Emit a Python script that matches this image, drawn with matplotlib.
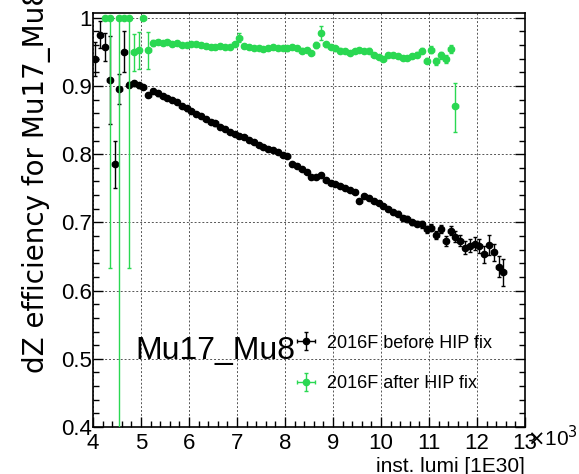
import numpy as np
import matplotlib.pyplot as plt
from matplotlib.ticker import MultipleLocator, FuncFormatter

plt.rcParams['font.family'] = ['Liberation Sans', 'DejaVu Sans']

# before HIP fix (black)
x_before = [4.05, 4.15, 4.25, 4.35, 4.45, 4.55, 4.65, 4.75, 4.85, 4.95,
            5.05, 5.15, 5.25, 5.35, 5.45, 5.55, 5.65, 5.75, 5.85, 5.95,
            6.05, 6.15, 6.25, 6.35, 6.45, 6.55, 6.65, 6.75, 6.85, 6.95,
            7.05, 7.15, 7.25, 7.35, 7.45, 7.55, 7.65, 7.75, 7.85, 7.95,
            8.05, 8.15, 8.25, 8.35, 8.45, 8.55, 8.65, 8.75, 8.85, 8.95,
            9.05, 9.15, 9.25, 9.35, 9.45, 9.55, 9.65, 9.75, 9.85, 9.95,
            10.05, 10.15, 10.25, 10.35, 10.45, 10.55, 10.65, 10.75, 10.85, 10.95,
            11.05, 11.15, 11.25, 11.35, 11.45, 11.55, 11.65, 11.75, 11.85, 11.95,
            12.05, 12.15, 12.25, 12.35, 12.45, 12.55]
y_before = [0.939, 0.975, 0.957, 0.909, 0.785, 0.896, 0.950, 0.902, 0.904, 0.901,
            0.899, 0.887, 0.893, 0.889, 0.885, 0.883, 0.880, 0.877, 0.871, 0.867,
            0.863, 0.859, 0.856, 0.851, 0.847, 0.845, 0.840, 0.837, 0.833, 0.830,
            0.827, 0.825, 0.821, 0.818, 0.814, 0.811, 0.808, 0.806, 0.803, 0.799,
            0.797, 0.786, 0.783, 0.778, 0.774, 0.767, 0.766, 0.770, 0.762, 0.758,
            0.756, 0.753, 0.751, 0.748, 0.745, 0.732, 0.739, 0.736, 0.731, 0.729,
            0.724, 0.720, 0.715, 0.713, 0.706, 0.705, 0.700, 0.698, 0.697, 0.690,
            0.692, 0.682, 0.690, 0.673, 0.688, 0.679, 0.673, 0.663, 0.666, 0.669,
            0.665, 0.653, 0.667, 0.656, 0.635, 0.627]
e_before = [0.025, 0.020, 0.020, 0.065, 0.034, 0.022, 0.030, 0.004, 0.004, 0.004,
            0.003, 0.003, 0.003, 0.003, 0.003, 0.003, 0.003, 0.003, 0.003, 0.003,
            0.003, 0.003, 0.003, 0.003, 0.003, 0.003, 0.003, 0.003, 0.003, 0.003,
            0.003, 0.003, 0.003, 0.003, 0.003, 0.003, 0.003, 0.003, 0.003, 0.003,
            0.003, 0.003, 0.003, 0.003, 0.003, 0.003, 0.003, 0.003, 0.003, 0.003,
            0.003, 0.003, 0.003, 0.003, 0.003, 0.003, 0.003, 0.003, 0.003, 0.003,
            0.003, 0.003, 0.003, 0.003, 0.004, 0.004, 0.004, 0.004, 0.005, 0.005,
            0.005, 0.006, 0.006, 0.007, 0.007, 0.008, 0.008, 0.009, 0.010, 0.010,
            0.010, 0.012, 0.015, 0.012, 0.015, 0.020]

# after HIP fix (green)
x_after = [4.25, 4.35, 4.55, 4.65, 4.75, 4.85, 4.95, 5.05, 5.15,
           5.25, 5.35, 5.45, 5.55, 5.65, 5.75, 5.85, 5.95,
           6.05, 6.15, 6.25, 6.35, 6.45, 6.55, 6.65, 6.75, 6.85, 6.95,
           7.05, 7.15, 7.25, 7.35, 7.45, 7.55, 7.65, 7.75, 7.85, 7.95,
           8.05, 8.15, 8.25, 8.35, 8.45, 8.55, 8.65, 8.75, 8.85, 8.95,
           9.05, 9.15, 9.25, 9.35, 9.45, 9.55, 9.65, 9.75, 9.85, 9.95,
           10.05, 10.15, 10.25, 10.35, 10.45, 10.55, 10.65, 10.75, 10.85, 10.95,
           11.05, 11.15, 11.25, 11.35, 11.45, 11.55]
y_after = [1.0, 1.0, 1.0, 1.0, 1.0, 0.950, 0.953, 1.0, 0.953,
           0.963, 0.964, 0.963, 0.964, 0.962, 0.963, 0.960, 0.960,
           0.961, 0.961, 0.960, 0.958, 0.957, 0.957, 0.958, 0.957, 0.957, 0.961,
           0.971, 0.959, 0.957, 0.956, 0.956, 0.954, 0.956, 0.957, 0.956, 0.956,
           0.955, 0.957, 0.956, 0.952, 0.953, 0.949, 0.960, 0.978, 0.961, 0.957,
           0.955, 0.952, 0.951, 0.949, 0.951, 0.953, 0.951, 0.952, 0.946, 0.942,
           0.940, 0.945, 0.945, 0.944, 0.941, 0.941, 0.944, 0.946, 0.952, 0.937,
           0.953, 0.936, 0.945, 0.940, 0.954, 0.871]
elo_after = [0.0, 0.367, 0.700, 0.0, 0.367, 0.028, 0.028, 0.0, 0.028,
             0.004, 0.003, 0.003, 0.003, 0.003, 0.003, 0.003, 0.003,
             0.003, 0.003, 0.003, 0.003, 0.003, 0.003, 0.003, 0.003, 0.003, 0.003,
             0.007, 0.003, 0.003, 0.003, 0.003, 0.003, 0.003, 0.003, 0.003, 0.003,
             0.003, 0.003, 0.003, 0.003, 0.003, 0.003, 0.004, 0.010, 0.004, 0.003,
             0.003, 0.003, 0.003, 0.003, 0.003, 0.003, 0.003, 0.003, 0.003, 0.003,
             0.003, 0.003, 0.003, 0.003, 0.003, 0.003, 0.003, 0.004, 0.004, 0.004,
             0.005, 0.005, 0.005, 0.006, 0.006, 0.039]
ehi_after = [0.0, 0.0, 0.0, 0.0, 0.0, 0.026, 0.026, 0.0, 0.026,
             0.004, 0.003, 0.003, 0.003, 0.003, 0.003, 0.003, 0.003,
             0.003, 0.003, 0.003, 0.003, 0.003, 0.003, 0.003, 0.003, 0.003, 0.003,
             0.007, 0.003, 0.003, 0.003, 0.003, 0.003, 0.003, 0.003, 0.003, 0.003,
             0.003, 0.003, 0.003, 0.003, 0.003, 0.003, 0.004, 0.010, 0.004, 0.003,
             0.003, 0.003, 0.003, 0.003, 0.003, 0.003, 0.003, 0.003, 0.003, 0.003,
             0.003, 0.003, 0.003, 0.003, 0.003, 0.003, 0.003, 0.004, 0.004, 0.004,
             0.005, 0.005, 0.005, 0.006, 0.006, 0.034]

GREEN = '#2ad852'


def main():
    fig = plt.figure(figsize=(5.79, 4.74), dpi=100)
    ax = fig.add_axes([93 / 579, 47 / 474, 432 / 579, 414 / 474])

    ax.errorbar(x_before, y_before, yerr=e_before, xerr=0.05, fmt='o', color='black',
                ms=4.5, lw=1, capsize=1.5, label='2016F before HIP fix', zorder=3)
    ax.errorbar(x_after, y_after, yerr=[elo_after, ehi_after], xerr=0.05, fmt='o',
                color=GREEN, ms=4.5, lw=1, capsize=1.5, label='2016F after HIP fix', zorder=4)

    ax.set_xlim(4, 13)
    ax.set_ylim(0.4, 1.007)
    ax.xaxis.set_major_locator(MultipleLocator(1))
    ax.xaxis.set_minor_locator(MultipleLocator(0.2))
    ax.yaxis.set_major_locator(MultipleLocator(0.1))
    ax.yaxis.set_minor_locator(MultipleLocator(0.02))
    ax.yaxis.set_major_formatter(FuncFormatter(lambda v, p: '1' if abs(v - 1) < 1e-6 else f'{v:.1f}'))
    ax.tick_params(which='both', direction='in', top=False, right=True, labelsize=16)
    ax.tick_params(which='major', length=7, width=1)
    ax.tick_params(which='minor', length=4, width=1)
    ax.tick_params(axis='y', pad=1)
    ax.tick_params(axis='x', pad=4)
    ax.grid(True, which='major', color='#555555', ls=(0, (2, 2)), lw=0.7)
    for s in ax.spines.values():
        s.set_linewidth(1.2)

    ax.text(0.097, 0.164, 'Mu17_Mu8', transform=ax.transAxes, fontsize=23)
    ax.legend(loc='lower left', bbox_to_anchor=(0.425, 0.045), frameon=False,
              fontsize=13, handlelength=1.5, handletextpad=0.4, labelspacing=1.3)

    fig.text(37 / 579, 0.213, 'dZ efficiency for Mu17_Mu8', rotation=90,
             ha='center', va='bottom', fontsize=20, family='DejaVu Sans')
    fig.text(525 / 579, 17 / 474, 'inst. lumi [1E30]', ha='right', va='top', fontsize=15)
    fig.text(527 / 579, 28 / 474, r'$\times$10$^3$', ha='left', va='baseline', fontsize=15)

    fig.savefig('out.png', dpi=100)
    plt.close(fig)


if __name__ == '__main__':
    main()
